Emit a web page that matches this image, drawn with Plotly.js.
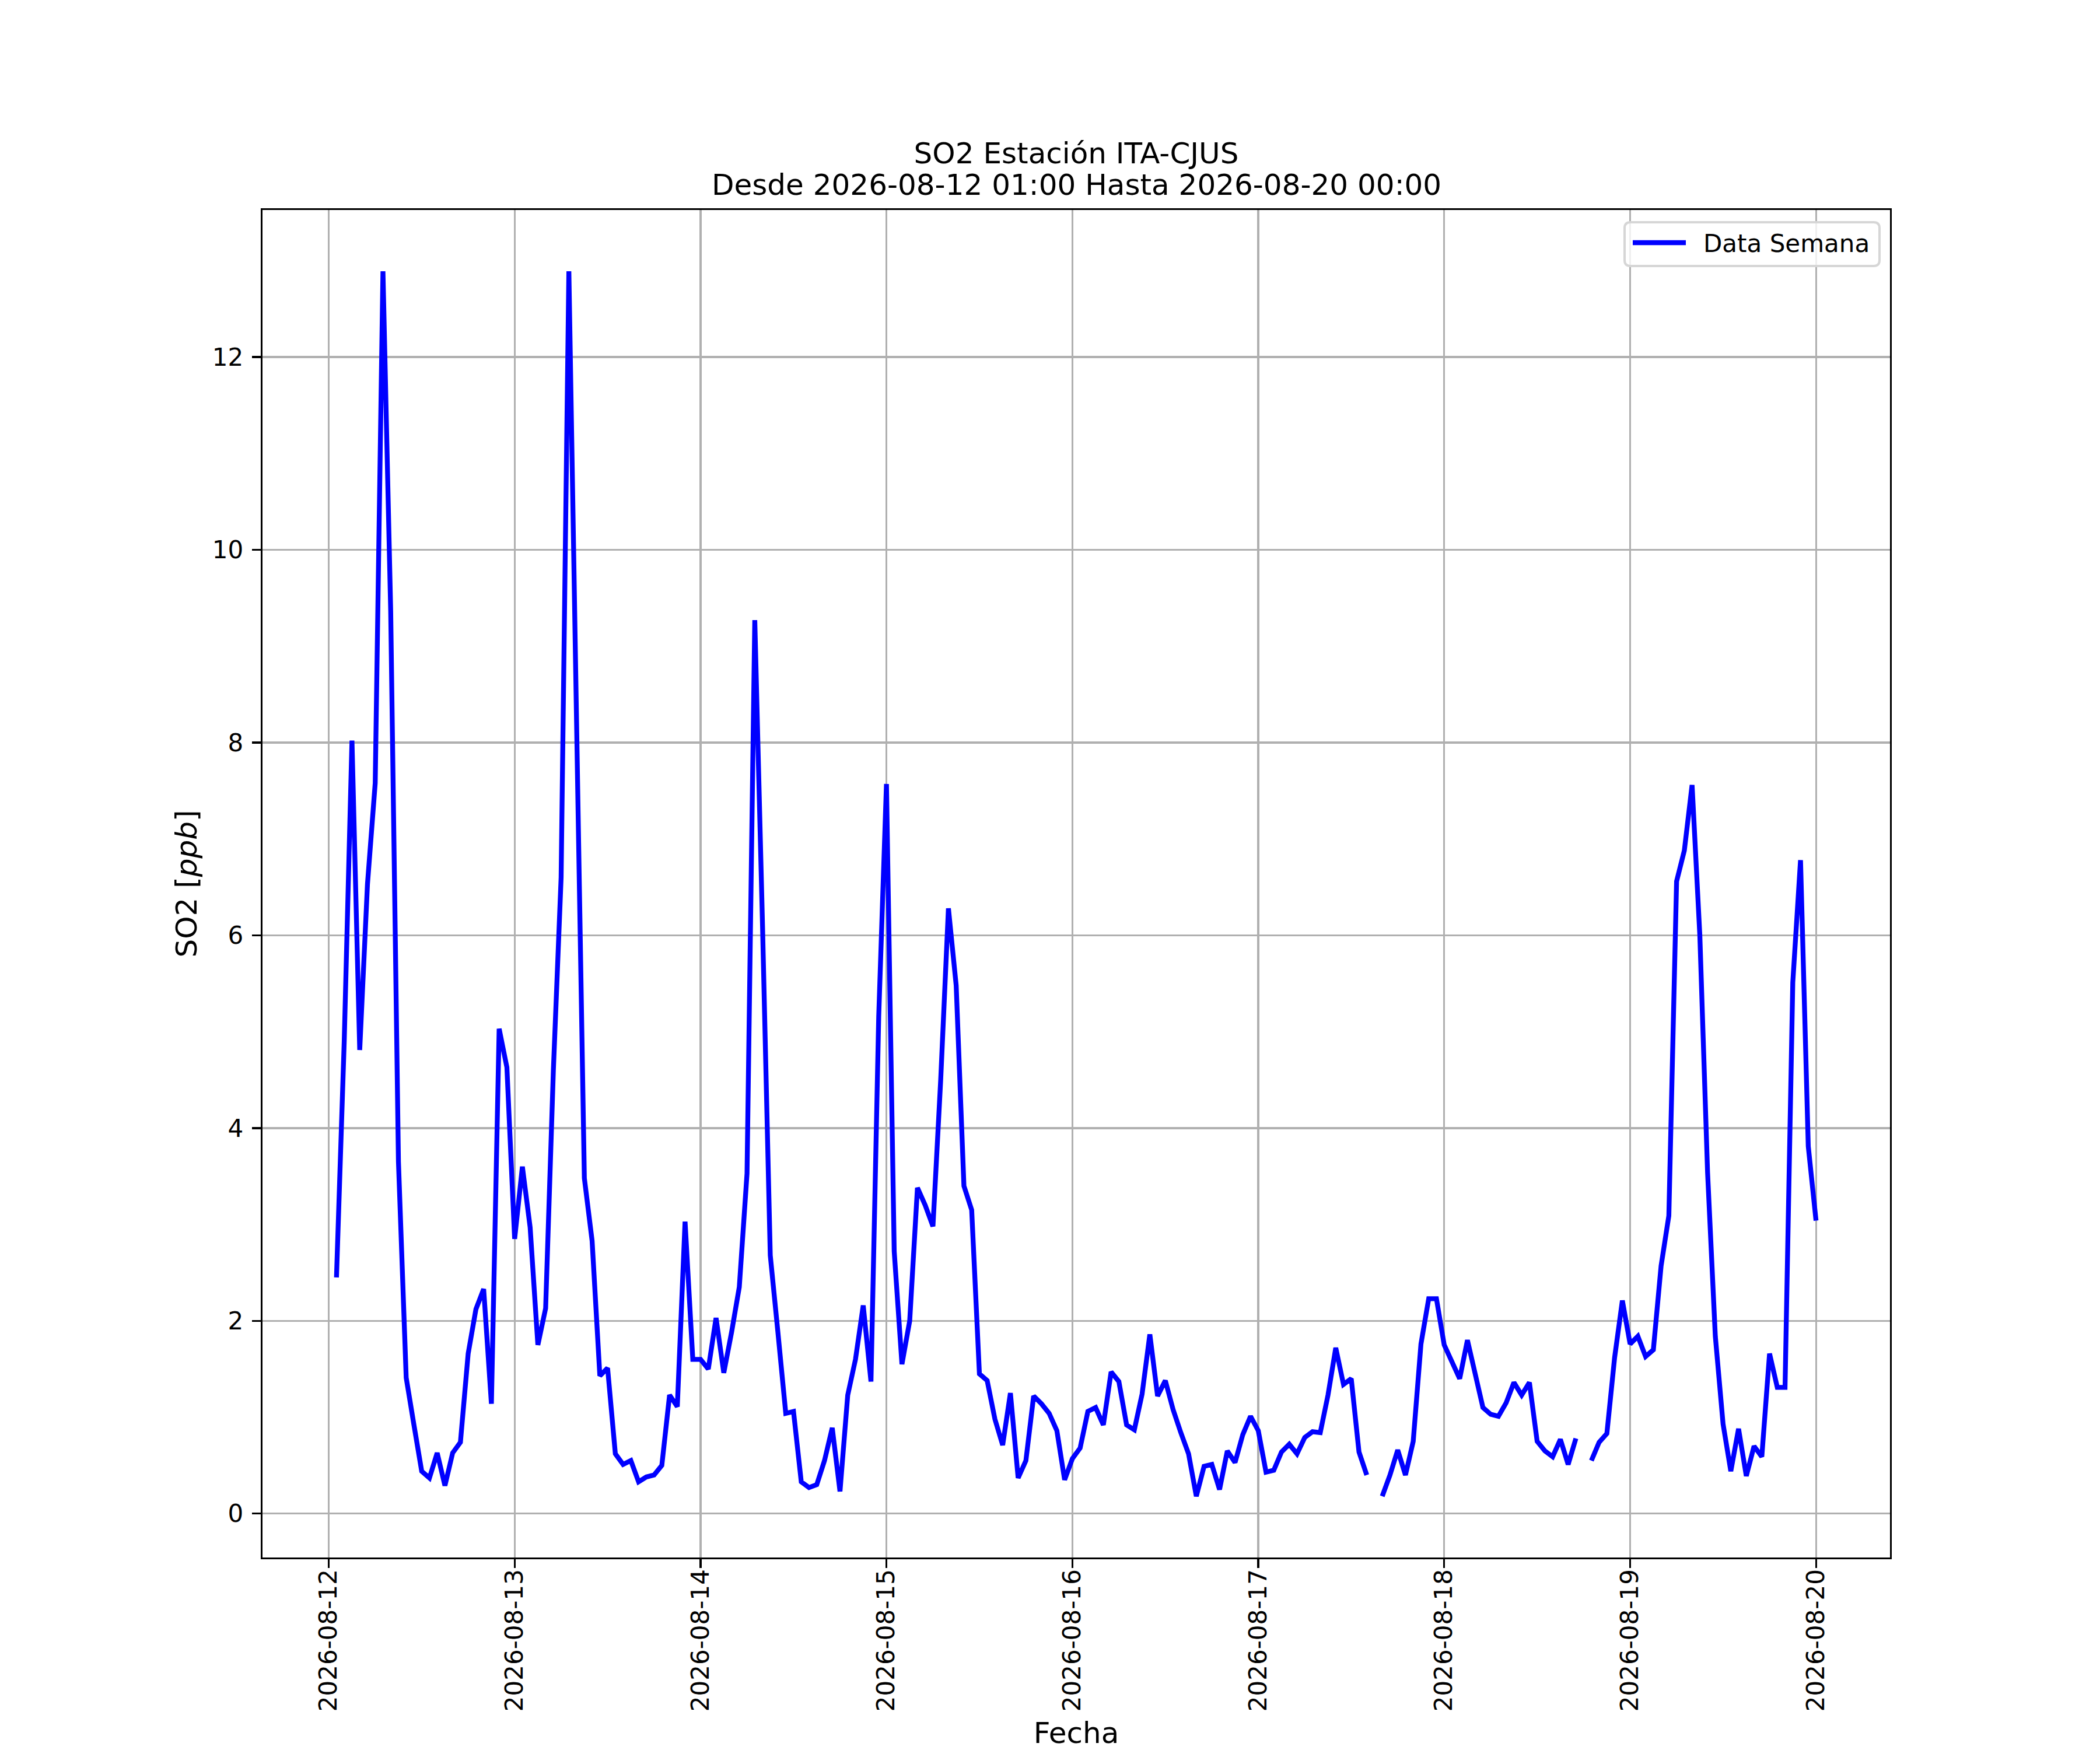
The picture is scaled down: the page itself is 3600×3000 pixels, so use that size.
<!DOCTYPE html>
<html>
<head>
<meta charset="utf-8">
<script src="https://cdn.plot.ly/plotly-3.0.1.min.js"></script>
<style>html,body{margin:0;padding:0;background:#fff;}#chart{width:3600px;height:3000px;}</style>
</head>
<body>
<div id="chart"></div>
<script>
// ---------------- DATA ----------------
const titleLine1 = 'SO2 Estación ITA-CJUS';
const titleLine2 = 'Desde 2026-08-12 01:00 Hasta 2026-08-20 00:00';
const seriesName = 'Data Semana';
const xLabel = 'Fecha';
const yLabel = 'SO2 [<i>ppb</i>]';

// first reading of the week: 2026-08-12 01:00, hourly readings
const firstDay = '2026-08-12';
const firstHour = 1;

// hourly SO2 values [ppb]; null = missing reading
const so2_0812 = [2.45, 4.9, 8.02, 4.81, 6.53, 7.58, 12.89, 9.36, 3.65, 1.41, 0.92, 0.44, 0.37, 0.63, 0.29, 0.63, 0.74, 1.66, 2.12, 2.33, 1.14, 5.03, 4.63]; // 01:00-23:00
const so2_0813 = [2.85, 3.60, 2.97, 1.75, 2.13, 4.6, 6.6, 12.89, 7.95, 3.48, 2.83, 1.43, 1.51, 0.62, 0.51, 0.55, 0.33, 0.38, 0.40, 0.50, 1.23, 1.11, 3.03, 1.60];
const so2_0814 = [1.60, 1.50, 2.03, 1.46, 1.88, 2.35, 3.53, 9.27, 6.1, 2.68, 1.87, 1.04, 1.06, 0.33, 0.27, 0.30, 0.55, 0.89, 0.23, 1.23, 1.60, 2.16, 1.37, 5.16];
const so2_0815 = [7.57, 2.72, 1.55, 2.0, 3.38, 3.2, 2.98, 4.5, 6.28, 5.48, 3.40, 3.15, 1.45, 1.38, 0.98, 0.71, 1.25, 0.37, 0.55, 1.22, 1.14, 1.04, 0.86, 0.35];
const so2_0816 = [0.57, 0.68, 1.06, 1.10, 0.92, 1.47, 1.37, 0.92, 0.87, 1.24, 1.86, 1.22, 1.38, 1.08, 0.84, 0.62, 0.18, 0.49, 0.51, 0.25, 0.65, 0.53, 0.82, 1.01];
const so2_0817 = [0.86, 0.43, 0.45, 0.64, 0.72, 0.62, 0.79, 0.85, 0.84, 1.23, 1.72, 1.34, 1.40, 0.64, 0.40, null, 0.18, 0.40, 0.66, 0.40, 0.75, 1.76, 2.23, 2.23];
const so2_0818 = [1.75, 1.57, 1.40, 1.80, 1.46, 1.10, 1.03, 1.01, 1.15, 1.36, 1.23, 1.36, 0.75, 0.65, 0.59, 0.77, 0.51, 0.78, null, 0.55, 0.74, 0.83, 1.62, 2.21];
const so2_0819 = [1.76, 1.84, 1.63, 1.70, 2.57, 3.09, 6.56, 6.88, 7.56, 6.0, 3.54, 1.84, 0.93, 0.44, 0.88, 0.39, 0.70, 0.59, 1.66, 1.31, 1.31, 5.51, 6.78, 3.81];
const so2_0820 = [3.04]; // 00:00

const tickDates = ['2026-08-12','2026-08-13','2026-08-14','2026-08-15','2026-08-16','2026-08-17','2026-08-18','2026-08-19','2026-08-20'];
const yTicks = [0, 2, 4, 6, 8, 10, 12];

// ---------------- BUILD ----------------
const so2 = [].concat(so2_0812, so2_0813, so2_0814, so2_0815, so2_0816, so2_0817, so2_0818, so2_0819, so2_0820);
const pad2 = n => (n < 10 ? '0' : '') + n;
const t0 = Date.parse(firstDay + 'T00:00:00Z') + firstHour * 3600000;
function fmt(ms) {
  const d = new Date(ms);
  return d.getUTCFullYear() + '-' + pad2(d.getUTCMonth() + 1) + '-' + pad2(d.getUTCDate()) + ' ' +
         pad2(d.getUTCHours()) + ':' + pad2(d.getUTCMinutes()) + ':' + pad2(d.getUTCSeconds());
}
const times = so2.map((v, i) => fmt(t0 + i * 3600000));

// matplotlib-like 5% auto margins
const tStart = t0, tEnd = t0 + (so2.length - 1) * 3600000;
const tPad = 0.05 * (tEnd - tStart);
const vals = so2.filter(v => v !== null);
const vMin = Math.min(...vals), vMax = Math.max(...vals);
const vPad = 0.05 * (vMax - vMin);

// ---------------- LAYOUT ----------------
const W = 3600, H = 3000;
const L = 450, R = 3240, T = 360, B = 2670;
const px = x => (x - L) / (R - L);
const py = y => (B - y) / (B - T);
const FONT = 'DejaVu Sans, Liberation Sans, sans-serif';
const LW = 3.33;

// legend box (rounded) in paper coords
const lx0 = 2785, lx1 = 3222, ly0 = 381, ly1 = 456, rad = 10;
const rx = rad / (R - L), ry = rad / (B - T);
const X0 = px(lx0), X1 = px(lx1), Y0 = py(ly0), Y1 = py(ly1);
const legendPath = 'M' + (X0 + rx) + ',' + Y0 + ' L' + (X1 - rx) + ',' + Y0 +
  ' Q' + X1 + ',' + Y0 + ' ' + X1 + ',' + (Y0 - ry) +
  ' L' + X1 + ',' + (Y1 + ry) + ' Q' + X1 + ',' + Y1 + ' ' + (X1 - rx) + ',' + Y1 +
  ' L' + (X0 + rx) + ',' + Y1 + ' Q' + X0 + ',' + Y1 + ' ' + X0 + ',' + (Y1 + ry) +
  ' L' + X0 + ',' + (Y0 - ry) + ' Q' + X0 + ',' + Y0 + ' ' + (X0 + rx) + ',' + Y0 + ' Z';

const trace = {
  type: 'scatter',
  mode: 'lines',
  name: seriesName,
  x: times,
  y: so2,
  connectgaps: false,
  line: {color: '#0000ff', width: 8.3},
  showlegend: false
};

const layout = {
  width: W, height: H,
  paper_bgcolor: '#ffffff', plot_bgcolor: '#ffffff',
  margin: {l: L, r: W - R, t: T, b: H - B, pad: 0},
  font: {family: FONT, size: 42, color: '#000000'},
  showlegend: false,
  title: {
    text: titleLine1,
    font: {family: FONT, size: 50, color: '#000000'},
    x: 0.5, xref: 'paper', xanchor: 'center',
    y: (H - 262) / H, yref: 'container', yanchor: 'middle'
  },
  xaxis: {
    type: 'date',
    range: [fmt(tStart - tPad), fmt(tEnd + tPad)],
    tickmode: 'array',
    tickvals: tickDates,
    ticktext: tickDates,
    tickangle: -90,
    ticks: 'outside', ticklen: 15, tickwidth: LW, tickcolor: '#000000',
    ticklabelstandoff: -15,
    tickfont: {family: FONT, size: 42, color: '#000000'},
    showline: true, linecolor: '#000000', linewidth: LW, mirror: true,
    showgrid: true, gridcolor: '#b0b0b0', gridwidth: LW,
    zeroline: false,
    title: {text: xLabel, font: {family: FONT, size: 50, color: '#000000'}, standoff: 54}
  },
  yaxis: {
    range: [vMin - vPad, vMax + vPad],
    tickmode: 'array',
    tickvals: yTicks,
    ticktext: yTicks.map(String),
    ticks: 'outside', ticklen: 15, tickwidth: LW, tickcolor: '#000000',
    ticklabelstandoff: 6,
    tickfont: {family: FONT, size: 42, color: '#000000'},
    showline: true, linecolor: '#000000', linewidth: LW, mirror: true,
    showgrid: true, gridcolor: '#b0b0b0', gridwidth: LW,
    zeroline: false,
    title: {text: yLabel, font: {family: FONT, size: 50, color: '#000000'}, standoff: 11}
  },
  shapes: [
    {type: 'path', xref: 'paper', yref: 'paper', path: legendPath,
     fillcolor: 'rgba(255,255,255,0.8)', line: {color: '#d6d6d6', width: 4}, layer: 'above'},
    {type: 'line', xref: 'paper', yref: 'paper', x0: px(2799), x1: px(2890), y0: py(416), y1: py(416),
     line: {color: '#0000ff', width: 8.3}, layer: 'above'}
  ],
  annotations: [
    {xref: 'paper', yref: 'paper', x: 0.5, y: py(317), xanchor: 'center', yanchor: 'middle',
     text: titleLine2, showarrow: false, font: {family: FONT, size: 50, color: '#000000'}},
    {xref: 'paper', yref: 'paper', x: px(2918), y: py(418), xanchor: 'left', yanchor: 'middle',
     text: seriesName, showarrow: false, font: {family: FONT, size: 42, color: '#000000'}}
  ]
};

Plotly.newPlot('chart', [trace], layout, {displayModeBar: false, staticPlot: true});
</script>
</body>
</html>
